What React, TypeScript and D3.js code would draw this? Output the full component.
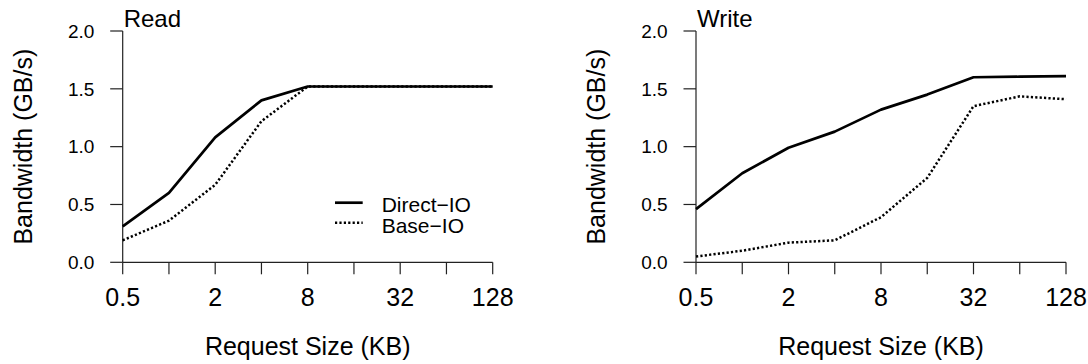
import React from "react";
import * as d3 from "d3";

const sizes = [0.5, 1, 2, 4, 8, 16, 32, 64, 128];
const tickLabels = ["0.5", "2", "8", "32", "128"];
const yTicks = [0, 0.5, 1, 1.5, 2];

const readDirect = [0.31, 0.6, 1.08, 1.4, 1.52, 1.52, 1.52, 1.52, 1.52];
const readBase = [0.19, 0.36, 0.67, 1.22, 1.52, 1.52, 1.52, 1.52, 1.52];
const writeDirect = [0.46, 0.77, 0.99, 1.13, 1.32, 1.45, 1.6, 1.605, 1.61];
const writeBase = [0.05, 0.1, 0.17, 0.19, 0.39, 0.73, 1.35, 1.435, 1.41];

const seriesNames = ["Direct\u2212IO", "Base\u2212IO"];
const panelTitles = ["Read", "Write"];

const FONT = "'Liberation Sans', Arial, Helvetica, sans-serif";
const DOT = "2.2 2.2";

function Panel({ ox, title, direct, base, legend }: { ox: number; title: string; direct: number[]; base: number[]; legend: boolean }) {
  const x = d3.scaleLog().base(2).domain([0.5, 128]).range([ox, ox + 370]);
  const y = d3.scaleLinear().domain([0, 2]).range([262.3, 31]);
  const line = d3
    .line<number>()
    .x((_, i) => x(sizes[i]))
    .y((d) => y(d));
  const [x0, x1] = x.range();
  const [y0, y1] = y.range();
  return (
    <g fontFamily={FONT} fill="#000">
      <line x1={x0} x2={x1} y1={y0} y2={y0} stroke="#222" strokeWidth={1.2} />
      <line x1={x0} x2={x0} y1={y0} y2={y1} stroke="#222" strokeWidth={1.2} />
      {sizes.map((s) => (
        <line key={s} x1={x(s)} x2={x(s)} y1={y0} y2={y0 + 12} stroke="#222" strokeWidth={1.2} />
      ))}
      {tickLabels.map((t) => (
        <text key={t} x={x(+t)} y={305.5} fontSize={25} textAnchor="middle">
          {t}
        </text>
      ))}
      {yTicks.map((v) => (
        <g key={v}>
          <line x1={x0 - 12.5} x2={x0} y1={y(v)} y2={y(v)} stroke="#222" strokeWidth={1.2} />
          <text x={x0 - 28.4} y={y(v) + 6.8} fontSize={19} textAnchor="end">
            {v.toFixed(1)}
          </text>
        </g>
      ))}
      <text x={ox + 1} y={27.3} fontSize={24}>
        {title}
      </text>
      <text x={(x0 + x1) / 2} y={355} fontSize={25} textAnchor="middle">
        Request Size (KB)
      </text>
      <text
        transform={`translate(${ox - 91.2},${(y0 + y1) / 2}) rotate(-90)`}
        fontSize={25}
        textAnchor="middle"
      >
        Bandwidth (GB/s)
      </text>
      <path d={line(base) || ""} fill="none" stroke="#000" strokeWidth={2.5} strokeDasharray={DOT} />
      <path d={line(direct) || ""} fill="none" stroke="#000" strokeWidth={2.7} strokeLinejoin="round" />
      {legend && (
        <g>
          <line x1={ox + 212.3} x2={ox + 240} y1={202.7} y2={202.7} stroke="#000" strokeWidth={2.7} />
          <line x1={ox + 212.3} x2={ox + 240} y1={222.7} y2={222.7} stroke="#000" strokeWidth={2.5} strokeDasharray={DOT} />
          <text x={ox + 259} y={212} fontSize={21}>
            {seriesNames[0]}
          </text>
          <text x={ox + 259} y={233.3} fontSize={21}>
            {seriesNames[1]}
          </text>
        </g>
      )}
    </g>
  );
}

export default function App() {
  return (
    <svg
      width={1088}
      height={364}
      style={{ position: "absolute", left: 0, top: 0, background: "#fff" }}
    >
      <rect width={1088} height={364} fill="#fff" />
      <Panel ox={122.7} title={panelTitles[0]} direct={readDirect} base={readBase} legend={true} />
      <Panel ox={696} title={panelTitles[1]} direct={writeDirect} base={writeBase} legend={false} />
    </svg>
  );
}
